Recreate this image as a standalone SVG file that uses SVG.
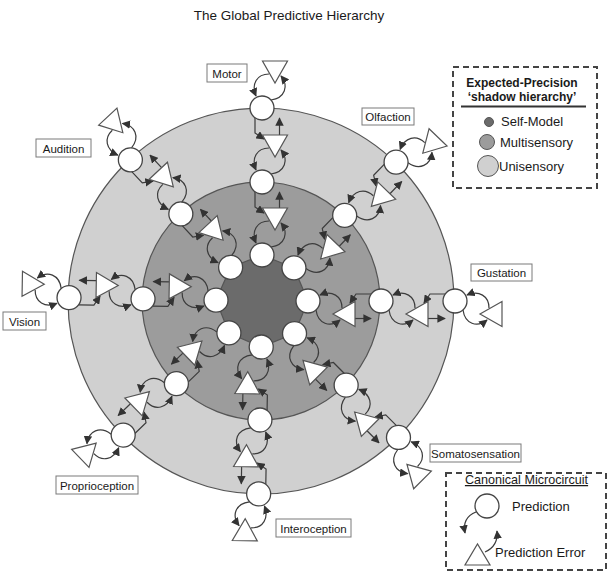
<svg xmlns="http://www.w3.org/2000/svg" xmlns:xlink="http://www.w3.org/1999/xlink" width="610" height="574" viewBox="0 0 610 574">
<style>
.ring{stroke:#555;stroke-width:1.2}
.nd{fill:#fff;stroke:#444;stroke-width:1.3}
.tri{fill:#fff;stroke:#555;stroke-width:1.2}
.ln{fill:none;stroke:#3c3c3c;stroke-width:1.2}
.lbl rect{fill:#fff;stroke:#7a7a7a;stroke-width:1}
.lbl text{font-family:"Liberation Sans",Arial,sans-serif;font-size:11.5px;fill:#1a1a1a;text-anchor:middle}
.t{font-family:"Liberation Sans",Arial,sans-serif;fill:#1a1a1a}
.dash{fill:#fff;stroke:#444;stroke-width:2;stroke-dasharray:6 4}
</style>
<defs>
<marker id="ah" viewBox="0 0 10 10" refX="9" refY="5" markerWidth="8.5" markerHeight="8.5" markerUnits="userSpaceOnUse" orient="auto"><path d="M0,0 L10,5 L0,10 z" fill="#333"/></marker>
<g id="cp">
<path class="ln" d="M7,-34 C-5,-34 -11,-24 -6,-12" marker-end="url(#ah)"/>
<path class="ln" d="M9,-8 C23,-10 27,-22 19,-32" marker-end="url(#ah)"/>
</g>
<g id="br">
<path class="ln" d="M-7,9.5 V25 L2,31" marker-end="url(#ah)"/>
<path class="ln" d="M17.5,27 V10" marker-end="url(#ah)"/>
</g>
<g id="links">
<use xlink:href="#cp" y="-46"/><use xlink:href="#cp" y="-119"/><use xlink:href="#cp" y="-193"/>
<use xlink:href="#br" y="-119"/><use xlink:href="#br" y="-193"/>
</g>
</defs>
<rect width="610" height="574" fill="#fff"/>
<text class="t" x="289" y="20" font-size="13.5" text-anchor="middle">The Global Predictive Hierarchy</text>
<g id="rings">
<circle class="ring" cx="261" cy="301" r="193" fill="#d0d0d0"/>
<circle class="ring" cx="261" cy="301" r="119" fill="#9c9c9c"/>
<polygon class="ring" fill="#6b6b6b" points="262,255 294,268 308,301 294.5,333.5 261,347 229,333 216,300 230.5,267.5"/>
</g>
<g id="connectors">
<use xlink:href="#links" transform="translate(262,301) rotate(0)"/>
<use xlink:href="#links" transform="translate(262,301) rotate(44)"/>
<use xlink:href="#links" transform="translate(262,301) rotate(90)"/>
<use xlink:href="#links" transform="translate(262,301) rotate(135)"/>
<use xlink:href="#links" transform="translate(262,301) rotate(181)"/>
<use xlink:href="#links" transform="translate(262,301) rotate(226)"/>
<use xlink:href="#links" transform="translate(262,301) rotate(271)"/>
<use xlink:href="#links" transform="translate(262,301) rotate(317)"/>
</g>
<g id="spoke-motor" transform="translate(262,301) rotate(0)">
<g id="motor-p1"><circle class="nd" cx="0" cy="-46" r="12"/></g>
<g id="motor-p2"><circle class="nd" cx="0" cy="-119" r="12"/></g>
<g id="motor-p3"><circle class="nd" cx="0" cy="-193" r="12"/></g>
<g id="motor-e1"><polygon class="tri" points="0.5,-93 25.5,-93 13,-71"/></g>
<g id="motor-e2"><polygon class="tri" points="0.5,-166 25.5,-166 13,-144"/></g>
<g id="motor-e3"><polygon class="tri" points="0.5,-240 25.5,-240 13,-218"/></g>
</g>
<g id="spoke-olfaction" transform="translate(262,301) rotate(44)">
<g id="olfaction-p1"><circle class="nd" cx="0" cy="-46" r="12"/></g>
<g id="olfaction-p2"><circle class="nd" cx="0" cy="-119" r="12"/></g>
<g id="olfaction-p3"><circle class="nd" cx="0" cy="-193" r="12"/></g>
<g id="olfaction-e1"><polygon class="tri" points="0.5,-93 25.5,-93 13,-71"/></g>
<g id="olfaction-e2"><polygon class="tri" points="0.5,-166 25.5,-166 13,-144"/></g>
<g id="olfaction-e3"><polygon class="tri" points="0.5,-240 25.5,-240 13,-218"/></g>
</g>
<g id="spoke-gustation" transform="translate(262,301) rotate(90)">
<g id="gustation-p1"><circle class="nd" cx="0" cy="-46" r="12"/></g>
<g id="gustation-p2"><circle class="nd" cx="0" cy="-119" r="12"/></g>
<g id="gustation-p3"><circle class="nd" cx="0" cy="-193" r="12"/></g>
<g id="gustation-e1"><polygon class="tri" points="0.5,-93 25.5,-93 13,-71"/></g>
<g id="gustation-e2"><polygon class="tri" points="0.5,-166 25.5,-166 13,-144"/></g>
<g id="gustation-e3"><polygon class="tri" points="0.5,-240 25.5,-240 13,-218"/></g>
</g>
<g id="spoke-somatosensation" transform="translate(262,301) rotate(135)">
<g id="somato-p1"><circle class="nd" cx="0" cy="-46" r="12"/></g>
<g id="somato-p2"><circle class="nd" cx="0" cy="-119" r="12"/></g>
<g id="somato-p3"><circle class="nd" cx="0" cy="-193" r="12"/></g>
<g id="somato-e1"><polygon class="tri" points="0.5,-93 25.5,-93 13,-71"/></g>
<g id="somato-e2"><polygon class="tri" points="0.5,-166 25.5,-166 13,-144"/></g>
<g id="somato-e3"><polygon class="tri" points="0.5,-240 25.5,-240 13,-218"/></g>
</g>
<g id="spoke-interoception" transform="translate(262,301) rotate(181)">
<g id="intero-p1"><circle class="nd" cx="0" cy="-46" r="12"/></g>
<g id="intero-p2"><circle class="nd" cx="0" cy="-119" r="12"/></g>
<g id="intero-p3"><circle class="nd" cx="0" cy="-193" r="12"/></g>
<g id="intero-e1"><polygon class="tri" points="0.5,-93 25.5,-93 13,-71"/></g>
<g id="intero-e2"><polygon class="tri" points="0.5,-166 25.5,-166 13,-144"/></g>
<g id="intero-e3"><polygon class="tri" points="0.5,-240 25.5,-240 13,-218"/></g>
</g>
<g id="spoke-proprioception" transform="translate(262,301) rotate(226)">
<g id="proprio-p1"><circle class="nd" cx="0" cy="-46" r="12"/></g>
<g id="proprio-p2"><circle class="nd" cx="0" cy="-119" r="12"/></g>
<g id="proprio-p3"><circle class="nd" cx="0" cy="-193" r="12"/></g>
<g id="proprio-e1"><polygon class="tri" points="0.5,-93 25.5,-93 13,-71"/></g>
<g id="proprio-e2"><polygon class="tri" points="0.5,-166 25.5,-166 13,-144"/></g>
<g id="proprio-e3"><polygon class="tri" points="0.5,-240 25.5,-240 13,-218"/></g>
</g>
<g id="spoke-vision" transform="translate(262,301) rotate(271)">
<g id="vision-p1"><circle class="nd" cx="0" cy="-46" r="12"/></g>
<g id="vision-p2"><circle class="nd" cx="0" cy="-119" r="12"/></g>
<g id="vision-p3"><circle class="nd" cx="0" cy="-193" r="12"/></g>
<g id="vision-e1"><polygon class="tri" points="0.5,-93 25.5,-93 13,-71"/></g>
<g id="vision-e2"><polygon class="tri" points="0.5,-166 25.5,-166 13,-144"/></g>
<g id="vision-e3"><polygon class="tri" points="0.5,-240 25.5,-240 13,-218"/></g>
</g>
<g id="spoke-audition" transform="translate(262,301) rotate(317)">
<g id="audition-p1"><circle class="nd" cx="0" cy="-46" r="12"/></g>
<g id="audition-p2"><circle class="nd" cx="0" cy="-119" r="12"/></g>
<g id="audition-p3"><circle class="nd" cx="0" cy="-193" r="12"/></g>
<g id="audition-e1"><polygon class="tri" points="0.5,-93 25.5,-93 13,-71"/></g>
<g id="audition-e2"><polygon class="tri" points="0.5,-166 25.5,-166 13,-144"/></g>
<g id="audition-e3"><polygon class="tri" points="0.5,-240 25.5,-240 13,-218"/></g>
</g>
<g id="labels" class="lbl">
<g id="lbl-motor"><rect x="207" y="64" width="40" height="18"/><text x="227" y="77.5">Motor</text></g>
<g id="lbl-olfaction"><rect x="362" y="108" width="52" height="17"/><text x="388" y="121">Olfaction</text></g>
<g id="lbl-audition"><rect x="36" y="139" width="55" height="18"/><text x="63.5" y="152.5">Audition</text></g>
<g id="lbl-vision"><rect x="3" y="312" width="43" height="18"/><text x="24.5" y="325.5">Vision</text></g>
<g id="lbl-gustation"><rect x="471" y="264" width="61" height="17"/><text x="501.5" y="277">Gustation</text></g>
<g id="lbl-somatosensation"><rect x="430" y="444" width="91" height="18"/><text x="475.5" y="457.5">Somatosensation</text></g>
<g id="lbl-interoception"><rect x="276" y="519" width="75" height="18"/><text x="313.5" y="532.5">Interoception</text></g>
<g id="lbl-proprioception"><rect x="56" y="476" width="82" height="18"/><text x="97" y="489.5">Proprioception</text></g>
</g>
<g id="legend-precision">
<rect class="dash" x="453" y="67" width="144" height="121"/>
<text class="t" x="522" y="87" font-size="12" font-weight="bold" text-anchor="middle">Expected-Precision</text>
<text class="t" x="522" y="101" font-size="12" font-weight="bold" text-anchor="middle">‘shadow hierarchy’</text>
<line x1="461" y1="106.5" x2="586" y2="106.5" stroke="#333" stroke-width="2"/>
<circle cx="489" cy="122" r="4.5" fill="#6b6b6b" stroke="#555" stroke-width="1"/>
<text class="t" x="501" y="126" font-size="13">Self-Model</text>
<circle cx="487" cy="142" r="7.5" fill="#9c9c9c" stroke="#555" stroke-width="1"/>
<text class="t" x="500" y="147" font-size="13">Multisensory</text>
<circle cx="488" cy="166" r="10.5" fill="#d0d0d0" stroke="#555" stroke-width="1"/>
<text class="t" x="499" y="171" font-size="13">Unisensory</text>
</g>
<g id="legend-microcircuit">
<rect class="dash" x="446" y="473" width="160" height="97"/>
<text class="t" x="526.5" y="484" font-size="12.6" text-anchor="middle" text-decoration="underline">Canonical Microcircuit</text>
<circle class="nd" cx="487" cy="506" r="12"/>
<text class="t" x="512" y="511" font-size="13">Prediction</text>
<path class="ln" d="M476,512 C466,516 463,523 465,533" marker-end="url(#ah)"/>
<polygon class="tri" points="465,565 490,565 477.5,544"/>
<path class="ln" d="M485,552 C494,548 498,541 497,531" marker-end="url(#ah)"/>
<text class="t" x="495" y="557" font-size="13">Prediction Error</text>
</g>
</svg>
